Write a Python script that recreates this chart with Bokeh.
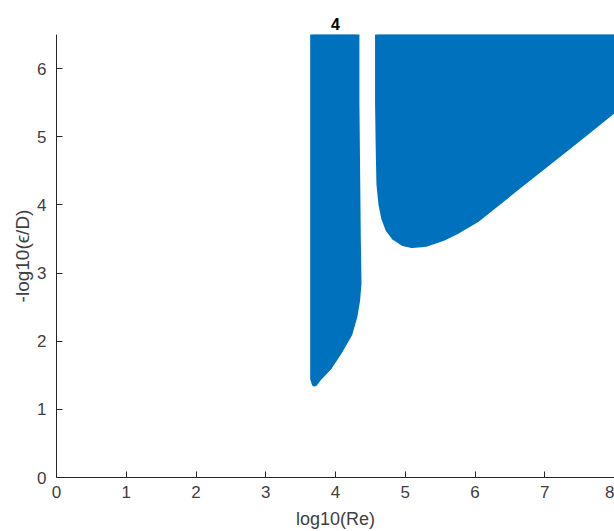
from bokeh.plotting import figure
from bokeh.models import Range1d, FixedTicker
from bokeh.embed import file_html
from bokeh.resources import INLINE

# Region boundaries (marker centres)
left_x = [3.68, 3.68, 3.70, 3.76, 3.90, 4.06, 4.20, 4.27, 4.31, 4.33, 4.32, 4.31, 4.30, 4.30]
left_y = [6.50, 1.45, 1.38, 1.46, 1.61, 1.86, 2.11, 2.36, 2.60, 2.85, 3.50, 4.50, 5.50, 6.50]

right_x = [4.61, 4.61, 4.62, 4.63, 4.66, 4.70, 4.76, 4.85, 4.97, 5.10, 5.30, 5.53, 5.75, 6.03, 6.53, 7.01, 7.49, 8.00, 8.40, 8.40]
right_y = [6.50, 5.50, 4.80, 4.30, 4.00, 3.80, 3.64, 3.52, 3.44, 3.41, 3.43, 3.51, 3.62, 3.79, 4.20, 4.59, 4.98, 5.40, 5.75, 6.50]

x_ticks = [0, 1, 2, 3, 4, 5, 6, 7, 8]
y_ticks = [0, 1, 2, 3, 4, 5, 6]

BLUE = "#0072BD"
AX = "#262626"

p = figure(width=614, height=531, output_backend="svg", toolbar_location=None,
           x_range=Range1d(0, 8.0), y_range=Range1d(0, 6.5),
           min_border_left=56, min_border_right=0, min_border_top=34, min_border_bottom=54,
           title="4")
p.outline_line_color = None
p.grid.visible = False
p.background_fill_color = "white"
p.border_fill_color = "white"

p.title.align = "center"
p.title.text_font = "Liberation Sans"
p.title.text_font_size = "16px"
p.title.text_font_style = "bold"
p.title.text_color = "black"
p.title.standoff = 10

for pts_x, pts_y in ((left_x, left_y), (right_x, right_y)):
    p.patch(pts_x, pts_y, fill_color=BLUE, line_color=BLUE, line_width=6, line_join="round")

for ax in (p.xaxis[0], p.yaxis[0]):
    ax.axis_line_color = AX
    ax.axis_line_width = 1
    ax.major_tick_line_color = AX
    ax.major_tick_in = 6
    ax.major_tick_out = 0
    ax.minor_tick_line_color = None
    ax.major_label_text_font = "Liberation Sans"
    ax.major_label_text_font_size = "17px"
    ax.major_label_text_color = "#404040"
    ax.axis_label_text_font = "Liberation Sans"
    ax.axis_label_text_font_size = "18px"
    ax.axis_label_text_font_style = "normal"
    ax.axis_label_text_color = "#404040"

p.xaxis.ticker = FixedTicker(ticks=x_ticks)
p.yaxis.ticker = FixedTicker(ticks=y_ticks)
p.xaxis.major_label_standoff = 8
p.yaxis.major_label_standoff = 10
p.xaxis.axis_label = "log10(Re)"
p.yaxis.axis_label = "-log10(\u03f5/D)"
p.yaxis.axis_label_text_font_size = "19px"
p.xaxis.axis_label_standoff = 8
p.yaxis.axis_label_standoff = 1

open("out.html", "w").write(file_html(p, INLINE))
